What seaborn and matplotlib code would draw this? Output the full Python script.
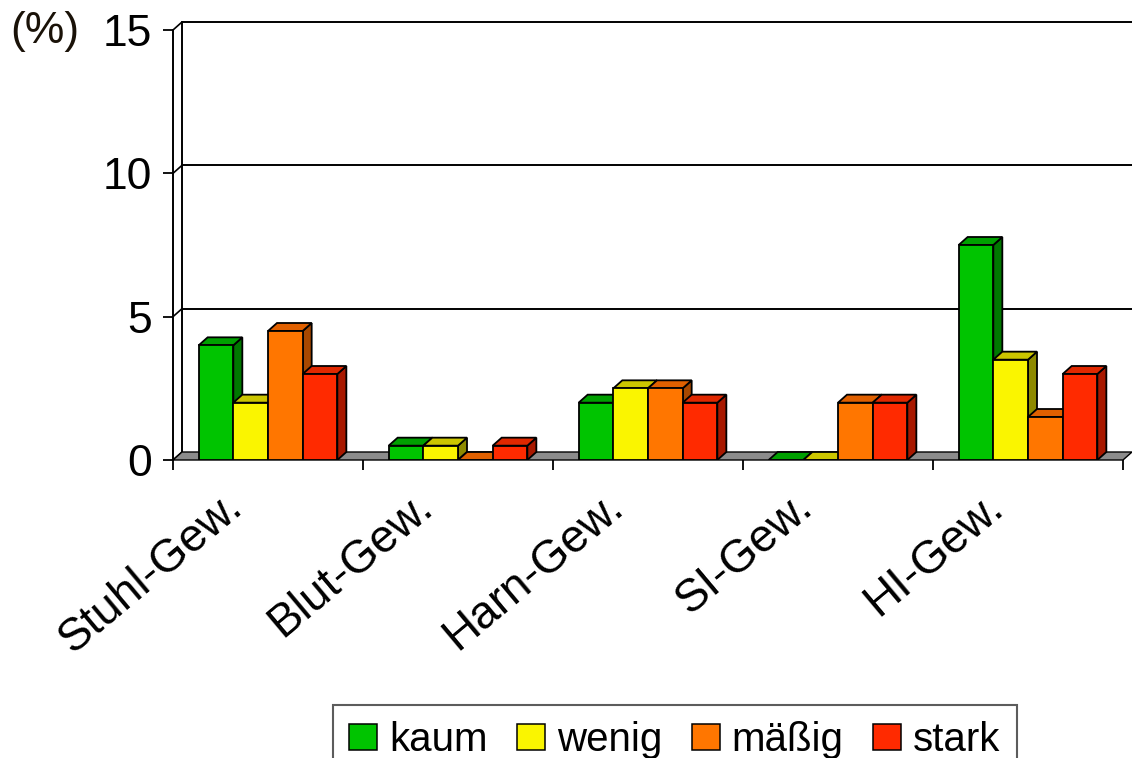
import matplotlib
matplotlib.use("Agg")
import matplotlib.pyplot as plt
from matplotlib.patches import Polygon, Patch
from matplotlib.transforms import ScaledTranslation
import pandas as pd
import seaborn as sns

# Anteil der Gewebeproben je Intensitätsstufe (%)
categories = ["Stuhl-Gew.", "Blut-Gew.", "Harn-Gew.", "SI-Gew.", "HI-Gew."]
levels = ["kaum", "wenig", "mäßig", "stark"]
kaum = [4.0, 0.5, 2.0, 0.0, 7.5]
wenig = [2.0, 0.5, 2.5, 0.0, 3.5]
maessig = [4.5, 0.0, 2.5, 2.0, 1.5]
stark = [3.0, 0.5, 2.0, 2.0, 3.0]
y_ticks = [0, 5, 10, 15]

# front, top and side shades of each level
front_colors = ["#00C400", "#FAF500", "#FF7600", "#FF2A00"]
top_colors = ["#00A000", "#CCC600", "#E06000", "#E02800"]
side_colors = ["#007800", "#8E8A00", "#A84800", "#A81800"]

series = [kaum, wenig, maessig, stark]
df = pd.DataFrame(
    [(c, lev, v) for lev, vals in zip(levels, series) for c, v in zip(categories, vals)],
    columns=["Gewebe", "Intensität", "Anteil"],
)

sns.set_style("white")
plt.rcParams["font.family"] = ["Liberation Sans", "DejaVu Sans"]
plt.rcParams["text.color"] = "black"
plt.rcParams["xtick.color"] = "black"
plt.rcParams["ytick.color"] = "black"
plt.rcParams["xtick.labelcolor"] = "black"
plt.rcParams["ytick.labelcolor"] = "black"

W, H = 1132, 758
fig = plt.figure(figsize=(W / 100, H / 100), dpi=100)
ax_left, ax_bottom_px, ax_w, ax_h = 173, 460, 950, 430
ax = fig.add_axes([ax_left / W, 1 - ax_bottom_px / H, ax_w / W, ax_h / H])

sns.barplot(
    data=df, x="Gewebe", y="Anteil", hue="Intensität",
    order=categories, hue_order=levels, palette=front_colors,
    width=0.73, saturation=1, edgecolor="black", linewidth=1.3,
    legend=False, ax=ax,
)

ax.set_xlim(-0.5, len(categories) - 0.5)
ax.set_ylim(0, 15)
ax.set_xlabel("")
ax.set_ylabel("")

# depth of the pseudo-3D extrusion, in data units
DX = 9 / (ax_w / len(categories))
DY = 8 / (ax_h / 15)
x0, x1 = -0.5, len(categories) - 0.5

# back wall: gridlines and left edge
for v in y_ticks[1:]:
    ax.plot([x0 + DX, x1 + DX], [v + DY, v + DY], color="black", lw=1.4,
            clip_on=False, zorder=0.5)
ax.plot([x0 + DX, x0 + DX], [DY, 15 + DY], color="black", lw=1.4,
        clip_on=False, zorder=0.5)
# connectors between front axis ticks and back wall
for v in y_ticks:
    ax.plot([x0, x0 + DX], [v, v + DY], color="black", lw=1.2,
            clip_on=False, zorder=0.6)

# floor
ax.add_patch(Polygon([(x0, 0), (x1, 0), (x1 + DX, DY), (x0 + DX, DY)],
                     closed=True, facecolor="#8C8C8C", edgecolor="black",
                     lw=1.0, clip_on=False, zorder=1))

# extrude bars: side and top faces, drawn left to right
bars = []
for i, cont in enumerate(ax.containers):
    for p in cont.patches:
        bars.append((p.get_x(), i, p))
bars.sort(key=lambda t: t[0])
for k, (bx, i, p) in enumerate(bars):
    w = p.get_width()
    h = p.get_height()
    base = 2 + 3 * k
    side = Polygon([(bx + w, 0), (bx + w, h), (bx + w + DX, h + DY), (bx + w + DX, DY)],
                   closed=True, facecolor=side_colors[i], edgecolor="black",
                   lw=1.3, zorder=base)
    top = Polygon([(bx, h), (bx + w, h), (bx + w + DX, h + DY), (bx + DX, h + DY)],
                  closed=True, facecolor=top_colors[i], edgecolor="black",
                  lw=1.3, zorder=base + 1)
    ax.add_patch(side)
    ax.add_patch(top)
    p.set_zorder(base + 2)

# axes styling
for s in ["top", "right", "bottom"]:
    ax.spines[s].set_visible(False)
ax.spines["left"].set_linewidth(1.4)
ax.spines["left"].set_color("black")
ax.set_yticks(y_ticks)
ax.set_yticklabels([str(v) for v in y_ticks])
ax.tick_params(axis="y", length=7.2, width=1.3, pad=8, labelsize=32,
               colors="black", left=True)
ax.set_xticks([x0 + j for j in range(len(categories) + 1)], minor=True)
ax.set_xticks(range(len(categories)))
ax.tick_params(axis="x", which="minor", length=7.2, width=1.3, bottom=True,
               color="black")
ax.tick_params(axis="x", which="major", length=0, pad=0, labelcolor="black")
ax.set_xticklabels(categories, fontsize=33, rotation=40, ha="right",
                   va="baseline", rotation_mode="anchor", color="black")
shift = ScaledTranslation(-23 / 100, -50 / 100, fig.dpi_scale_trans)
for lab in ax.get_xticklabels():
    lab.set_transform(lab.get_transform() + shift)

fig.text(10 / W, 1 - 32 / H, "(%)", fontsize=32, ha="left", va="center",
         color="#1a1208")

handles = [Patch(facecolor=c, edgecolor="black", lw=1.1) for c in front_colors]
leg = fig.legend(handles, levels, loc="upper left",
                 bbox_to_anchor=(333 / W, 1 - 705 / H), ncol=4, fontsize=29,
                 frameon=True, fancybox=False, edgecolor="#333333",
                 handlelength=0.7, handleheight=0.62, handletextpad=0.3,
                 columnspacing=0.72, borderpad=0.4, borderaxespad=0,
                 labelcolor="black")
leg.get_frame().set_linewidth(1.5)

fig.savefig("out.png", dpi=100)
